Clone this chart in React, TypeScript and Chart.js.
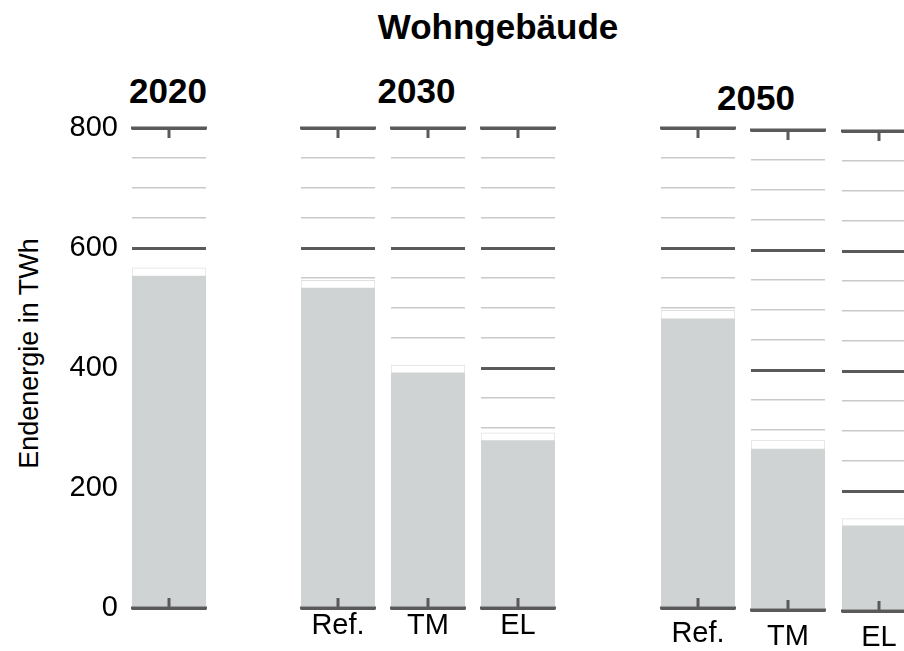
import React, { useEffect, useRef } from "react";
import { Chart, registerables } from "chart.js";

Chart.register(...registerables);

// ---------- data ----------
const chartTitle = "Wohngebäude";
const yAxisTitle = "Endenergie in TWh";
const groupLabels = ["2020", "2030", "2050"];
const columnGroup = [0, 1, 1, 1, 2, 2, 2];
const scenarioLabels = ["", "Ref.", "TM", "EL", "Ref.", "TM", "EL"];
const mainValues = [553, 533, 392, 279, 482, 268, 142];
const topValues = [14, 13, 13, 13, 14, 15, 12];
const yMin = 0;
const yMax = 800;
const gridStep = 50;
const labelStep = 200;

// ---------- layout & style ----------
const FONT = "'Liberation Sans', Arial, Helvetica, sans-serif";
const BAR = "#cfd3d4";
const DARK = "#5a5a5a";
const LIGHT = "#c9c9c9";
const COL_LEFT = [132, 301, 391, 481, 661, 751, 842];
const COL_W = 74;
const COL_SHIFT = [0, 0, 0, 0, 0.3, 1.7, 3.3];
const LABEL_PAD = [-7, -7, -7, -7, 0.7, 1.5, 1.3];
const PLOT_TOP = 128;
const PLOT_H = 480;
const PAD_TOP = 22;
const SIDE_PAD = 3;
const XAXIS_H = 50;
const AXIS_W = 132;
const GROUP_POS = [
  { x: 168, y: 90 },
  { x: 416.5, y: 90 },
  { x: 756, y: 97.5 },
];

Chart.defaults.font.family = FONT;

const framePlugin = {
  id: "columnFrame",
  afterDatasetsDraw(chart: any) {
    const { ctx, chartArea, scales } = chart;
    const y0 = scales.y.getPixelForValue(yMin);
    const yTop = scales.y.getPixelForValue(yMax);
    const xc = scales.x.getPixelForValue(0);
    ctx.save();
    ctx.strokeStyle = DARK;
    ctx.lineWidth = 3;
    ctx.beginPath();
    ctx.moveTo(chartArea.left - 1, y0);
    ctx.lineTo(chartArea.right + 1, y0);
    ctx.moveTo(chartArea.left - 1, yTop);
    ctx.lineTo(chartArea.right + 1, yTop);
    ctx.stroke();
    ctx.lineWidth = 3;
    ctx.beginPath();
    ctx.moveTo(xc, y0);
    ctx.lineTo(xc, y0 - 10);
    ctx.moveTo(xc, yTop);
    ctx.lineTo(xc, yTop + 10);
    ctx.stroke();
    ctx.restore();
  },
};

function ColumnChart({ index }: { index: number }) {
  const ref = useRef<HTMLCanvasElement | null>(null);
  const first = index === 0;
  const leftExtra = first ? AXIS_W : SIDE_PAD;
  const width = leftExtra + COL_W + SIDE_PAD;
  const height = PAD_TOP + PLOT_H + XAXIS_H;
  const left = COL_LEFT[index] - leftExtra;
  const top = PLOT_TOP + COL_SHIFT[index] - PAD_TOP;

  useEffect(() => {
    if (!ref.current) return;
    const chart = new Chart(ref.current, {
      type: "bar",
      data: {
        labels: [scenarioLabels[index]],
        datasets: [
          {
            label: "main",
            data: [mainValues[index]],
            backgroundColor: BAR,
            borderWidth: 0,
            barPercentage: 1,
            categoryPercentage: 1,
          },
          {
            label: "top",
            data: [topValues[index]],
            backgroundColor: "#ffffff",
            borderColor: "#e0e0e0",
            borderWidth: 1,
            barPercentage: 1,
            categoryPercentage: 1,
          },
        ],
      },
      options: {
        responsive: false,
        animation: false,
        devicePixelRatio: 1,
        layout: {
          padding: { top: PAD_TOP, bottom: 0, left: first ? 0 : SIDE_PAD, right: SIDE_PAD },
        },
        plugins: {
          legend: { display: false },
          tooltip: { enabled: false },
          title: { display: false },
        },
        scales: {
          x: {
            stacked: true,
            grid: { display: false },
            border: { display: false },
            ticks: {
              color: "#000",
              font: { size: 29, family: FONT },
              padding: LABEL_PAD[index],
              maxRotation: 0,
              autoSkip: false,
            },
            afterFit: (s: any) => {
              s.height = XAXIS_H;
            },
          },
          y: {
            stacked: true,
            min: yMin,
            max: yMax,
            border: { display: false },
            grid: {
              drawTicks: false,
              color: (c: any) =>
                c.tick && c.tick.value % labelStep === 0 ? DARK : LIGHT,
              lineWidth: (c: any) =>
                c.tick && c.tick.value % labelStep === 0 ? 3 : 1.5,
            },
            ticks: {
              display: first,
              stepSize: gridStep,
              maxTicksLimit: 100,
              autoSkip: false,
              padding: 14,
              color: "#000",
              font: { size: 29, family: FONT, lineHeight: 0.4 },
              callback: (v: any) => (Number(v) % labelStep === 0 ? String(v) : ""),
            },
            afterFit: (s: any) => {
              s.width = first ? AXIS_W : 0;
            },
          },
        },
      },
      plugins: [framePlugin],
    } as any);
    return () => chart.destroy();
  }, [index]);

  return (
    <canvas
      ref={ref}
      width={width}
      height={height}
      style={{ position: "absolute", left, top, width, height }}
    />
  );
}

function TextAt({
  text,
  x,
  y,
  size,
  bold,
  rotate,
}: {
  text: string;
  x: number;
  y: number;
  size: number;
  bold?: boolean;
  rotate?: boolean;
}) {
  const w = 400;
  return (
    <div
      style={{
        position: "absolute",
        left: x - w / 2,
        top: y - size / 2,
        width: w,
        height: size,
        lineHeight: size + "px",
        fontSize: size,
        fontFamily: FONT,
        fontWeight: bold ? "bold" : "normal",
        textAlign: "center",
        whiteSpace: "nowrap",
        color: "#000",
        transform: rotate ? "rotate(-90deg)" : undefined,
      }}
    >
      {text}
    </div>
  );
}

export default function App() {
  useEffect(() => {
    document.body.style.margin = "0";
  }, []);
  return (
    <div
      style={{
        position: "fixed",
        left: 0,
        top: 0,
        width: 904,
        height: 651,
        overflow: "hidden",
        background: "#fff",
      }}
    >
      <TextAt text={chartTitle} x={498} y={26} size={35} bold />
      {groupLabels.map((g, i) => (
        <TextAt key={g} text={g} x={GROUP_POS[i].x} y={GROUP_POS[i].y} size={35} bold />
      ))}
      <TextAt text={yAxisTitle} x={28.5} y={353} size={27} rotate />
      {scenarioLabels.map((_, i) => (
        <ColumnChart key={i} index={i} />
      ))}
    </div>
  );
}
